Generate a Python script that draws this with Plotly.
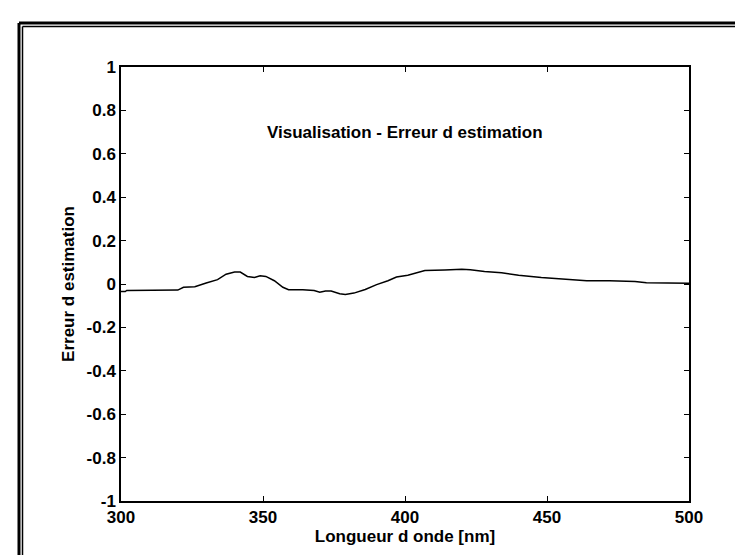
import plotly.graph_objects as go

# Estimation error
wavelength = [300, 301.5, 302, 318, 320, 322, 326, 330, 334, 337, 340, 342, 344.5, 347, 349,
              351, 354, 357, 359, 364, 366, 368, 370, 372, 374, 377, 379, 382, 386, 390,
              394, 397, 401, 404, 407, 414, 420, 423, 428, 434, 440, 448, 456, 464, 472,
              481, 485, 500]
erreur = [-0.035, -0.035, -0.03, -0.03, -0.028, -0.015, -0.013, 0.005, 0.02, 0.045, 0.055,
          0.055, 0.035, 0.03, 0.038, 0.035, 0.015, -0.015, -0.026, -0.026, -0.028, -0.03,
          -0.038, -0.032, -0.032, -0.045, -0.048, -0.042, -0.025, -0.003, 0.015, 0.032,
          0.04, 0.05, 0.062, 0.065, 0.068, 0.066, 0.058, 0.052, 0.04, 0.03, 0.022, 0.015,
          0.015, 0.012, 0.006, 0.004]

x_ticks = [300, 350, 400, 450, 500]
y_ticks = [1, 0.8, 0.6, 0.4, 0.2, 0, -0.2, -0.4, -0.6, -0.8, -1]
y_labels = ["1", "0.8", "0.6", "0.4", "0.2", "0", "-0.2", "-0.4", "-0.6", "-0.8", "-1"]

font = "Liberation Sans, Arial, sans-serif"
txt = dict(family=font, size=17, color="black", weight="bold")

fig = go.Figure()
fig.add_trace(go.Scatter(x=wavelength, y=erreur, mode="lines",
                         line=dict(color="black", width=1.5), showlegend=False))

axis = dict(showgrid=False, zeroline=False, showline=True, linecolor="black", linewidth=1.5,
            mirror="ticks", ticks="inside", ticklen=5, tickcolor="black", tickwidth=1,
            tickfont=txt)

fig.update_xaxes(range=[300, 500], tickvals=x_ticks, ticktext=[str(v) for v in x_ticks],
                 title=dict(text="Longueur d onde [nm]", font=txt, standoff=4), **axis)
fig.update_yaxes(range=[-1, 1], tickvals=y_ticks, ticktext=y_labels,
                 title=dict(text="Erreur d estimation", font=txt, standoff=8), **axis)

fig.add_annotation(x=400, y=0.7, xref="x", yref="y", showarrow=False,
                   text="Visualisation - Erreur d estimation", font=txt)

# scanned page frame (double black line on the left and top)
for off, w in [(0, 3), (3.5, 1.5)]:
    px_l = 11 + off
    py_t = 15 + off
    xl = (px_l - 113) / 568
    yt = (493 - py_t) / 434
    fig.add_shape(type="line", xref="paper", yref="paper", x0=xl, x1=1.2, y0=yt, y1=yt,
                  line=dict(color="black", width=w))
    fig.add_shape(type="line", xref="paper", yref="paper", x0=xl, x1=xl, y0=yt, y1=-0.2,
                  line=dict(color="black", width=w))

fig.update_layout(width=743, height=555, margin=dict(l=113, r=62, t=59, b=62),
                  plot_bgcolor="white", paper_bgcolor="white",
                  font=dict(family=font, color="black"))

fig.write_html("out.html")
